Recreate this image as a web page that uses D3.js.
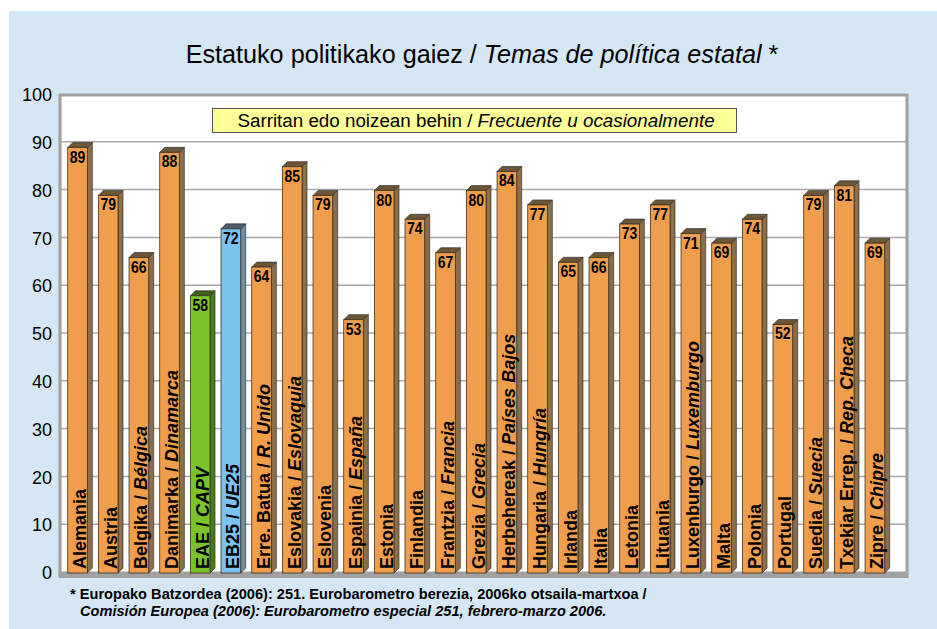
<!DOCTYPE html>
<html>
<head>
<meta charset="utf-8">
<script src="https://cdn.jsdelivr.net/npm/d3@7"></script>
<style>
  body { margin: 0; background: #fff; }
  text { font-family: "Liberation Sans", Arial, sans-serif; }
</style>
</head>
<body>
<div id="chart"></div>
<script>
// categories: basque part / spanish part (italic)
const eusk = ["Alemania", "Austria", "Belgika", "Danimarka", "EAE", "EB25", "Erre. Batua", "Eslovakia",
  "Eslovenia", "Espainia", "Estonia", "Finlandia", "Frantzia", "Grezia", "Herbehereak", "Hungaria",
  "Irlanda", "Italia", "Letonia", "Lituania", "Luxenburgo", "Malta", "Polonia", "Portugal",
  "Suedia", "Txekiar Errep.", "Zipre"];
const espa = ["", "", "Bélgica", "Dinamarca", "CAPV", "UE25", "R. Unido", "Eslovaquia",
  "", "España", "", "", "Francia", "Grecia", "Países Bajos", "Hungría",
  "", "", "", "", "Luxemburgo", "", "", "",
  "Suecia", "Rep. Checa", "Chipre"];
const values = [89, 79, 66, 88, 58, 72, 64, 85, 79, 53, 80, 74, 67, 80, 84, 77,
  65, 66, 73, 77, 71, 69, 74, 52, 79, 81, 69];
const yTicks = [0, 10, 20, 30, 40, 50, 60, 70, 80, 90, 100];

const W = 937, H = 629;
const plot = {left: 60, right: 907, top: 95, bottom: 573};

const svg = d3.select("#chart").append("svg")
  .attr("width", W).attr("height", H);

// blue panel
svg.append("rect").attr("x", 9).attr("y", 11).attr("width", W - 9).attr("height", H - 11)
  .attr("fill", "#d5e7f5");

// plot area
svg.append("rect").attr("x", plot.left).attr("y", plot.top)
  .attr("width", plot.right - plot.left).attr("height", plot.bottom - plot.top)
  .attr("fill", "#fff").attr("stroke", "#a0a0a0").attr("stroke-width", 3);

const x = d3.scaleBand()
  .domain(d3.range(values.length))
  .range([62.2, 890.2])
  .paddingInner(0.36)
  .paddingOuter(0.18);

const y = d3.scaleLinear().domain([0, 100]).range([plot.bottom, plot.top]);

// grid
svg.append("g").selectAll("line").data(yTicks.slice(1, -1)).enter().append("line")
  .attr("x1", plot.left).attr("x2", plot.right)
  .attr("y1", d => y(d) - 1).attr("y2", d => y(d) - 1)
  .attr("stroke", "#a8a8a8").attr("stroke-width", 1.5);

// floor
svg.append("rect").attr("x", plot.left - 1.5).attr("y", plot.bottom)
  .attr("width", plot.right - plot.left + 3).attr("height", 5)
  .attr("fill", "#a0a0a0");

// y axis labels
const yAxis = d3.axisLeft(y).tickValues(yTicks).tickSize(0).tickPadding(8);
const yg = svg.append("g").attr("transform", "translate(" + plot.left + ",0)").call(yAxis);
yg.select(".domain").remove();
yg.selectAll("text").attr("font-size", 18).attr("fill", "#000")
  .attr("font-family", "Liberation Sans, Arial, sans-serif");

// bars
const front = (i) => i === 4 ? "#7cc22a" : i === 5 ? "#7ac2f0" : "#f09e4b";
const side = (i) => i === 4 ? "#4d7a1e" : i === 5 ? "#6f8ea4" : "#8c6e48";
const topc = (i) => i === 4 ? "#3f5f1a" : i === 5 ? "#4e5e68" : "#6c5638";
const dx = 5, dy = 5;

const bars = svg.append("g").selectAll("g").data(values).enter().append("g");

bars.append("path")
  .attr("d", (d, i) => {
    const x1 = x(i) + x.bandwidth();
    return "M" + x1 + "," + y(d) + "L" + (x1 + dx) + "," + (y(d) - dy) +
      "L" + (x1 + dx) + "," + (y(0) - dy) + "L" + x1 + "," + y(0) + "Z";
  })
  .attr("fill", (d, i) => side(i)).attr("stroke", "#333").attr("stroke-width", 0.7);

bars.append("path")
  .attr("d", (d, i) => {
    const x0 = x(i), x1 = x(i) + x.bandwidth();
    return "M" + x0 + "," + y(d) + "L" + (x0 + dx) + "," + (y(d) - dy) +
      "L" + (x1 + dx) + "," + (y(d) - dy) + "L" + x1 + "," + y(d) + "Z";
  })
  .attr("fill", (d, i) => topc(i)).attr("stroke", "#333").attr("stroke-width", 0.7);

bars.append("rect")
  .attr("x", (d, i) => x(i)).attr("y", d => y(d))
  .attr("width", x.bandwidth()).attr("height", d => y(0) - y(d))
  .attr("fill", (d, i) => front(i)).attr("stroke", "#3a3020").attr("stroke-width", 0.8);

// value labels
bars.append("text")
  .attr("transform", (d, i) => "translate(" + (x(i) + x.bandwidth() / 2) + "," + (y(d) + 15) + ") scale(0.85,1.05)")
  .attr("text-anchor", "middle")
  .attr("font-size", 16.5).attr("font-weight", "bold").attr("fill", "#000")
  .text(d => d);

// category labels (rotated)
const cat = bars.append("text")
  .attr("transform", (d, i) => "translate(" + (x(i) + x.bandwidth() - 1.5) + "," + (y(0) - 4) + ") rotate(-90)")
  .attr("font-size", 18).attr("font-weight", "bold").attr("fill", "#000");
cat.append("tspan").text((d, i) => eusk[i] + (espa[i] ? " / " : ""));
cat.append("tspan").attr("font-style", "italic").text((d, i) => espa[i]);

// title
const title = svg.append("text").attr("x", 482).attr("y", 63)
  .attr("text-anchor", "middle").attr("font-size", 25.2).attr("fill", "#000");
title.append("tspan").text("Estatuko politikako gaiez / ");
title.append("tspan").attr("font-style", "italic").text("Temas de política estatal");
title.append("tspan").text(" *");

// legend box
svg.append("rect").attr("x", 212.5).attr("y", 108.5).attr("width", 524).attr("height", 24)
  .attr("fill", "#ffff99").attr("stroke", "#555").attr("stroke-width", 1);
const leg = svg.append("text").attr("x", 476).attr("y", 127)
  .attr("text-anchor", "middle").attr("font-size", 18.8).attr("fill", "#000");
leg.append("tspan").text("Sarritan edo noizean behin / ");
leg.append("tspan").attr("font-style", "italic").text("Frecuente u ocasionalmente");

// footnote
svg.append("text").attr("x", 70).attr("y", 599)
  .attr("font-size", 14.6).attr("font-weight", "bold").attr("fill", "#000")
  .text("* Europako Batzordea (2006): 251. Eurobarometro berezia, 2006ko otsaila-martxoa /");
svg.append("text").attr("x", 80).attr("y", 616)
  .attr("font-size", 14.6).attr("font-weight", "bold").attr("font-style", "italic").attr("fill", "#000")
  .text("Comisión Europea (2006): Eurobarometro especial 251, febrero-marzo 2006.");
</script>
</body>
</html>
